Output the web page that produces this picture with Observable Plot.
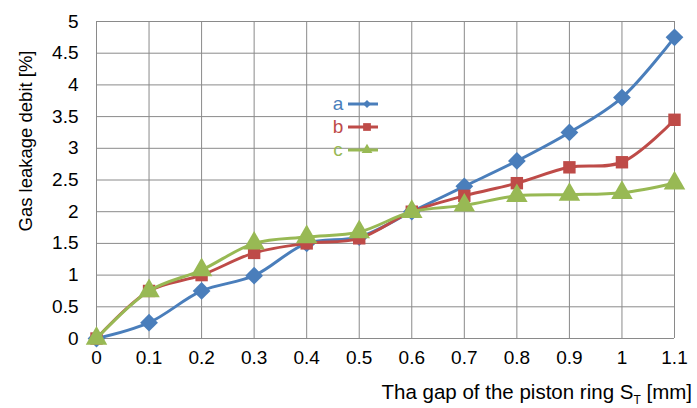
<!DOCTYPE html>
<html><head><meta charset="utf-8">
<script src="https://cdn.jsdelivr.net/npm/d3@7"></script>
<script src="https://cdn.jsdelivr.net/npm/@observablehq/plot@0.6"></script>
<style>body{margin:0;background:#fff;font-family:"Liberation Sans",Arial,sans-serif}#chart{position:relative;width:697px;height:408px}</style>
</head><body><div id="chart"></div>
<script>
const gaps = [0, 0.1, 0.2, 0.3, 0.4, 0.5, 0.6, 0.7, 0.8, 0.9, 1.0, 1.1];
const seriesA = [0, 0.25, 0.75, 0.99, 1.5, 1.6, 2.0, 2.4, 2.8, 3.25, 3.8, 4.75];
const seriesB = [0, 0.75, 1.0, 1.35, 1.5, 1.58, 2.0, 2.25, 2.45, 2.7, 2.78, 3.45];
const seriesC = [0, 0.75, 1.08, 1.5, 1.6, 1.68, 2.0, 2.1, 2.25, 2.27, 2.3, 2.45];
const seriesNames = ["a", "b", "c"];
const seriesColors = ["#4a7ebb", "#be4b48", "#98b954"];
const seriesSymbols = ["diamond2", "square", "triangle"];
const xTicks = [0, 0.1, 0.2, 0.3, 0.4, 0.5, 0.6, 0.7, 0.8, 0.9, 1, 1.1];
const yTicks = [0, 0.5, 1, 1.5, 2, 2.5, 3, 3.5, 4, 4.5, 5];
const xTitle = "Tha gap of the piston ring S";
const xTitleSub = "T";
const xTitleEnd = " [mm]";
const yTitle = "Gas leakage debit [%]";

const allSeries = [seriesA, seriesB, seriesC];
const data = [];
allSeries.forEach((vals, i) => vals.forEach((v, j) => data.push({series: seriesNames[i], x: gaps[j], y: v})));

const fmt = d => String(d);
const marks = [
  Plot.gridX(xTicks, {stroke: "#8a8a8a", strokeOpacity: 1}),
  Plot.gridY(yTicks, {stroke: "#8a8a8a", strokeOpacity: 1}),
  Plot.axisX(xTicks, {tickSize: 0, tickPadding: 12, fontSize: 19, fill: "#000", label: null, tickFormat: fmt}),
  Plot.axisY(yTicks, {tickSize: 0, tickPadding: 18, fontSize: 19, fill: "#000", label: null, tickFormat: fmt}),
];
seriesNames.forEach((name, i) => {
  const d = data.filter(r => r.series === name);
  marks.push(Plot.line(d, {x: "x", y: "y", stroke: seriesColors[i], strokeWidth: 3, curve: "catmull-rom"}));
  marks.push(Plot.dot(d, {x: "x", y: "y", fill: seriesColors[i], stroke: "none", symbol: () => seriesSymbols[i], r: i === 0 ? 8 : (i === 1 ? 7 : 8)}));
});

const chart = Plot.plot({
  width: 697, height: 408,
  marginLeft: 96, marginRight: 23, marginTop: 21, marginBottom: 70,
  x: {domain: [0, 1.1]},
  y: {domain: [0, 5]},
  style: {fontFamily: "'Liberation Sans', Arial, sans-serif", background: "#fff"},
  marks
});
document.getElementById("chart").appendChild(chart);

const svg = d3.select(chart);
// axis titles
const xt = svg.append("text").attr("x", 692).attr("y", 399).attr("text-anchor", "end")
  .attr("font-size", 20.5).attr("fill", "#000").attr("font-family", "'Liberation Sans', Arial, sans-serif");
xt.append("tspan").text(xTitle);
xt.append("tspan").attr("font-size", 12).attr("dy", 5).text(xTitleSub);
xt.append("tspan").attr("dy", -5).text(xTitleEnd);
svg.append("text").attr("transform", "translate(32,141) rotate(-90)").attr("text-anchor", "middle")
  .attr("font-size", 18.5).attr("fill", "#000").attr("font-family", "'Liberation Sans', Arial, sans-serif").text(yTitle);

// legend
const leg = svg.append("g");
seriesNames.forEach((name, i) => {
  const yy = 104 + i * 23;
  leg.append("text").attr("x", 338).attr("y", yy + 6).attr("text-anchor", "middle").attr("font-size", 19)
    .attr("fill", seriesColors[i]).attr("font-family", "'Liberation Sans', Arial, sans-serif").text(name);
  leg.append("line").attr("x1", 348).attr("x2", 378).attr("y1", yy).attr("y2", yy)
    .attr("stroke", seriesColors[i]).attr("stroke-width", 3);
  const sym = [d3.symbolDiamond2, d3.symbolSquare, d3.symbolTriangle][i];
  const sz = [40, 60, 50][i];
  leg.append("path").attr("d", d3.symbol(sym, sz)()).attr("transform", `translate(367,${yy})`).attr("fill", seriesColors[i]);
});
</script>
</body></html>
